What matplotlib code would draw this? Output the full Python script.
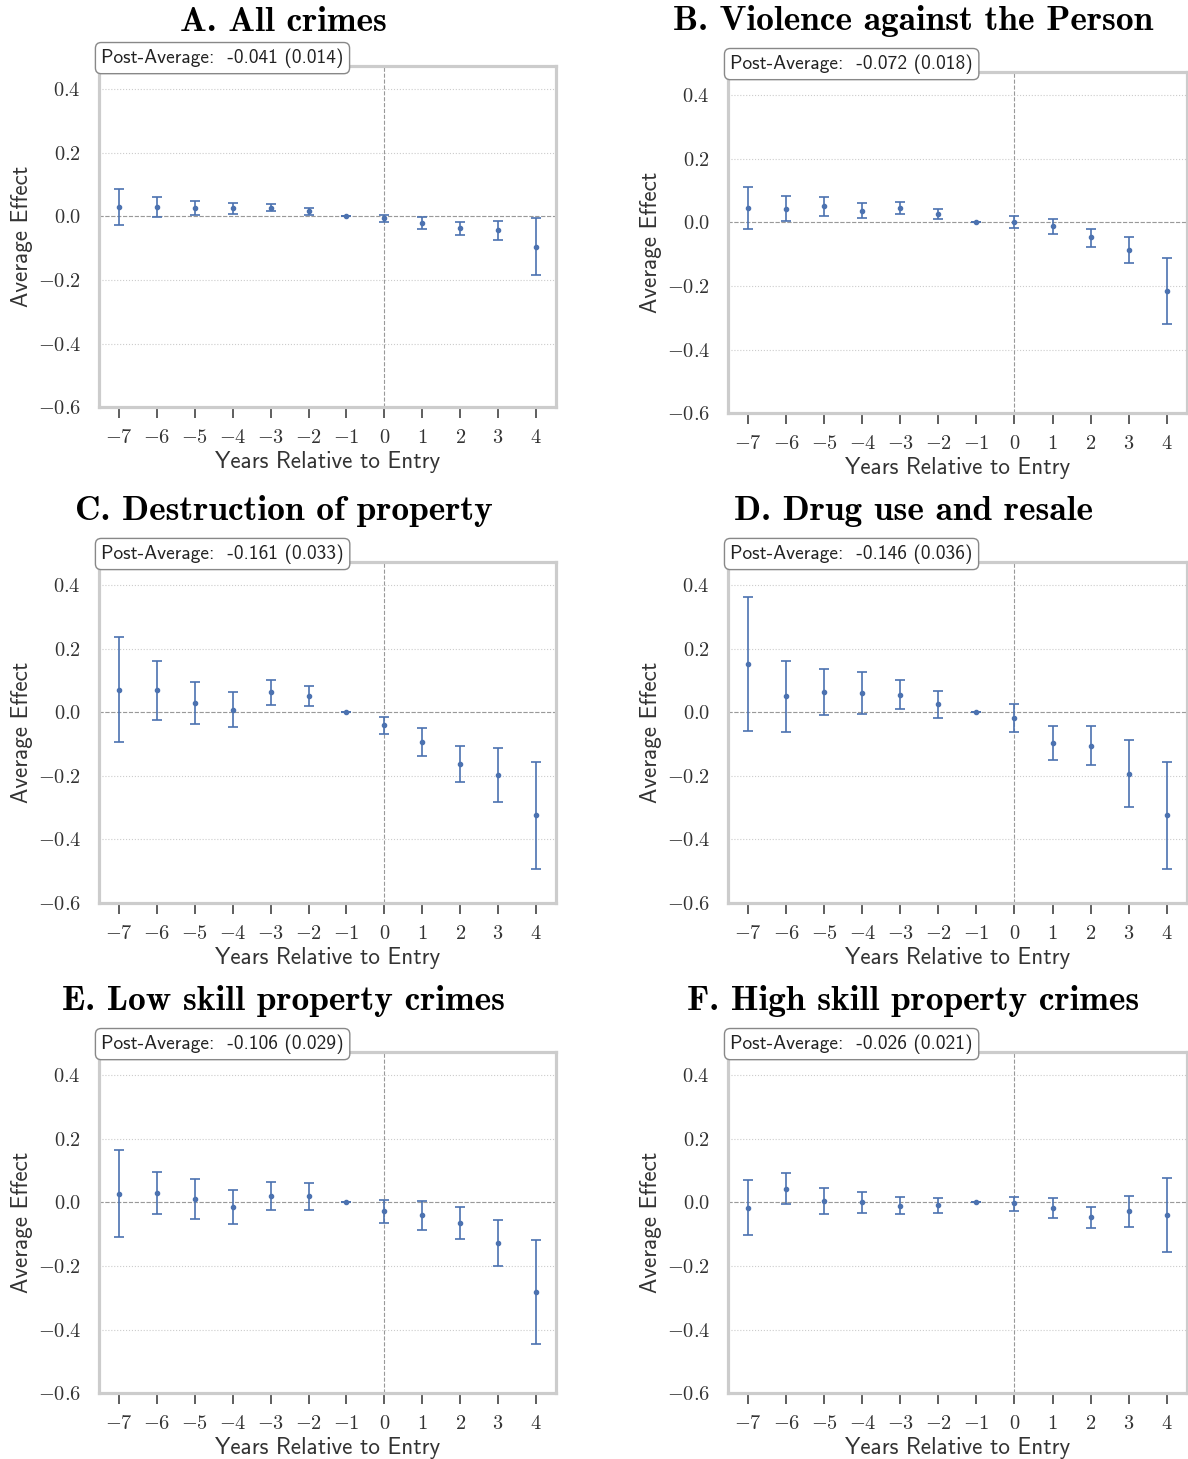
import numpy as np
import matplotlib
matplotlib.use("Agg")
import matplotlib.pyplot as plt

plt.rcParams['font.family'] = 'serif'
plt.rcParams['font.serif'] = ['cmr10']
plt.rcParams['mathtext.fontset'] = 'cm'
plt.rcParams['axes.formatter.use_mathtext'] = True

years = [-7, -6, -5, -4, -3, -2, -1, 0, 1, 2, 3, 4]

titles = ["A. All crimes", "B. Violence against the Person",
          "C. Destruction of property", "D. Drug use and resale",
          "E. Low skill property crimes", "F. High skill property crimes"]
post_avg = ["-0.041 (0.014)", "-0.072 (0.018)", "-0.161 (0.033)",
            "-0.146 (0.036)", "-0.106 (0.029)", "-0.026 (0.021)"]

# point estimates and 95% CI bounds
est_a = [0.030, 0.030, 0.028, 0.026, 0.028, 0.018, 0.0, -0.006, -0.020, -0.036, -0.043, -0.095]
lo_a = [-0.027, -0.002, 0.005, 0.008, 0.017, 0.006, 0.0, -0.018, -0.039, -0.057, -0.074, -0.185]
hi_a = [0.086, 0.061, 0.049, 0.043, 0.040, 0.026, 0.0, 0.005, -0.003, -0.017, -0.013, -0.005]

est_b = [0.045, 0.044, 0.051, 0.037, 0.045, 0.026, 0.0, 0.003, -0.012, -0.046, -0.087, -0.216]
lo_b = [-0.021, 0.004, 0.020, 0.013, 0.027, 0.012, 0.0, -0.016, -0.036, -0.076, -0.128, -0.321]
hi_b = [0.113, 0.084, 0.080, 0.061, 0.063, 0.042, 0.0, 0.020, 0.012, -0.019, -0.046, -0.112]

est_c = [0.072, 0.069, 0.031, 0.007, 0.063, 0.053, 0.0, -0.040, -0.092, -0.162, -0.198, -0.322]
lo_c = [-0.094, -0.023, -0.035, -0.047, 0.022, 0.020, 0.0, -0.067, -0.136, -0.218, -0.282, -0.492]
hi_c = [0.237, 0.162, 0.096, 0.063, 0.103, 0.084, 0.0, -0.013, -0.048, -0.107, -0.112, -0.155]

est_d = [0.152, 0.051, 0.064, 0.060, 0.055, 0.025, 0.0, -0.019, -0.096, -0.106, -0.193, -0.324]
lo_d = [-0.060, -0.062, -0.008, -0.006, 0.011, -0.018, 0.0, -0.062, -0.151, -0.167, -0.298, -0.494]
hi_d = [0.362, 0.163, 0.137, 0.127, 0.101, 0.068, 0.0, 0.025, -0.042, -0.044, -0.086, -0.156]

est_e = [0.028, 0.031, 0.011, -0.014, 0.021, 0.019, 0.0, -0.027, -0.040, -0.064, -0.126, -0.281]
lo_e = [-0.108, -0.035, -0.053, -0.067, -0.023, -0.023, 0.0, -0.065, -0.086, -0.115, -0.199, -0.444]
hi_e = [0.164, 0.097, 0.075, 0.040, 0.066, 0.062, 0.0, 0.008, 0.006, -0.014, -0.055, -0.117]

est_f = [-0.016, 0.044, 0.005, 0.000, -0.011, -0.009, 0.0, -0.003, -0.017, -0.047, -0.028, -0.039]
lo_f = [-0.103, -0.004, -0.035, -0.034, -0.037, -0.033, 0.0, -0.026, -0.048, -0.081, -0.078, -0.155]
hi_f = [0.071, 0.094, 0.045, 0.033, 0.016, 0.015, 0.0, 0.018, 0.013, -0.015, 0.021, 0.078]

ests = [est_a, est_b, est_c, est_d, est_e, est_f]
los = [lo_a, lo_b, lo_c, lo_d, lo_e, lo_f]
his = [hi_a, hi_b, hi_c, hi_d, hi_e, hi_f]

# axes rectangles in figure fraction (left, bottom, width, height)
positions = [
    (0.0833, 0.7210, 0.3847, 0.2338),
    (0.6128, 0.7169, 0.3862, 0.2338),
    (0.0833, 0.3811, 0.3847, 0.2338),
    (0.6128, 0.3811, 0.3862, 0.2338),
    (0.0833, 0.0452, 0.3847, 0.2338),
    (0.6128, 0.0452, 0.3862, 0.2338),
]
# panel A sits a little higher than B but the titles line up per row
title_pads = [25.5, 30, 30, 30, 30, 30]

blue = '#4c72b0'
fig = plt.figure(figsize=(11.88, 14.59), dpi=100)

for i in range(6):
    ax = fig.add_axes(positions[i])
    est = np.array(ests[i])
    yerr = [est - np.array(los[i]), np.array(his[i]) - est]

    ax.axhline(0, color='#999999', ls='--', lw=0.8, zorder=1)
    ax.axvline(0, color='#999999', ls='--', lw=0.8, zorder=1)
    ax.errorbar(years, est, yerr=yerr, fmt='o', color=blue, ms=3,
                elinewidth=1.2, capsize=3.5, capthick=1.2, zorder=3)

    ax.set_xlim(-7.53, 4.53)
    ax.set_ylim(-0.6, 0.474)
    ax.set_xticks(years)
    ax.set_yticks([-0.6, -0.4, -0.2, 0.0, 0.2, 0.4])
    ax.grid(axis='y', color='#cccccc', ls=':', lw=0.8)
    ax.set_axisbelow(True)
    for s in ax.spines.values():
        s.set_color('#cccccc')
        s.set_linewidth(2.3)
    ax.tick_params(axis='x', length=8, width=1.1, color='#333333', labelsize=14.7,
                   labelcolor='#333333', pad=7.5)
    ax.tick_params(axis='y', length=0, labelsize=14.7, labelcolor='#333333', pad=13)

    ax.set_xlabel('Years Relative to Entry', family='cmss10', fontsize=16.6,
                  color='#333333', labelpad=3.5)
    ax.set_ylabel('Average Effect', family='cmss10', fontsize=16.6,
                  color='#333333', labelpad=3)
    # title is centred over the panel including its y labels
    ax.set_title(titles[i], family='cmb10', fontsize=25.5, pad=title_pads[i], x=0.404)

    ax.text(0.005, 1.023, 'Post-Average:  ' + post_avg[i], transform=ax.transAxes,
            family='cmss10', fontsize=14, color='#222222', ha='left', va='center',
            bbox=dict(boxstyle='round,pad=0.3', fc='white', ec='#888888', lw=1.0),
            zorder=5, clip_on=False)

fig.savefig('out.png', dpi=100)
